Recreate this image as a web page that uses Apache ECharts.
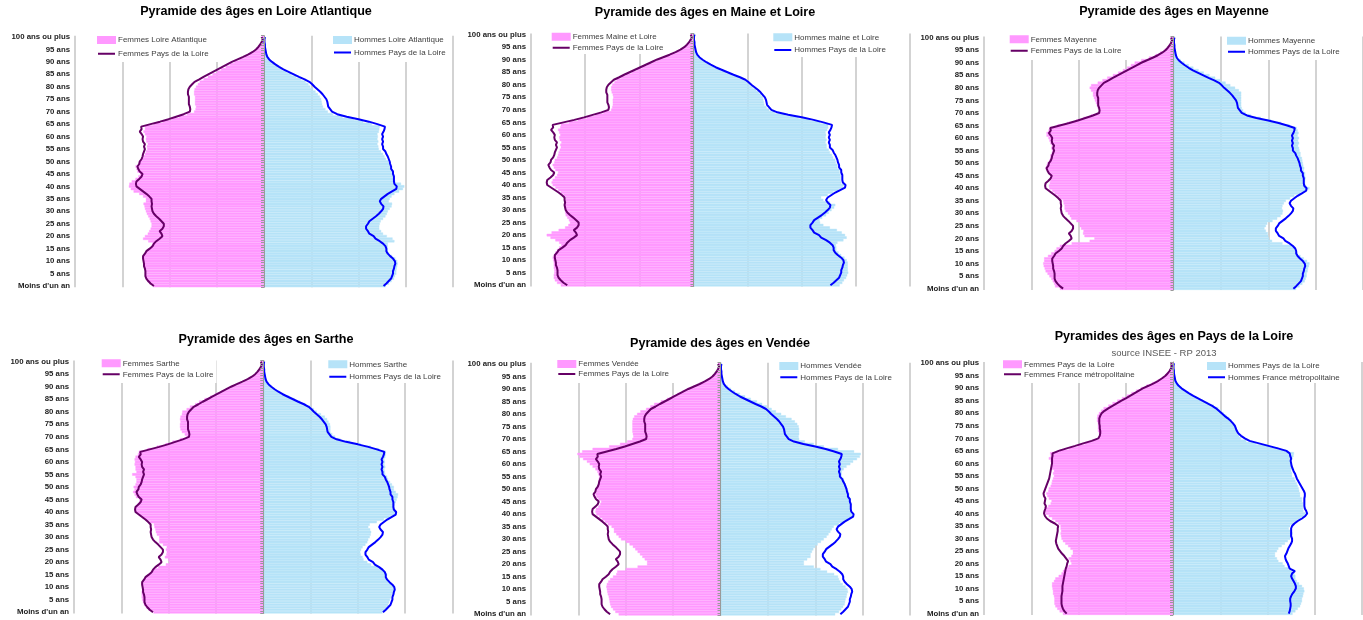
<!DOCTYPE html>
<html><head><meta charset="utf-8">
<script src="https://cdn.jsdelivr.net/npm/echarts@6.0.0/dist/echarts.min.js"></script>
<style>html,body{margin:0;padding:0;background:#fff}#c{width:1363px;height:620px}</style>
</head><body><div id="c"></div>
<script>
// Age categories (index 0 = "Moins d'un an", 100 = "100 ans ou plus")
const ageLabels = [];
for (let a = 0; a <= 100; a++) ageLabels.push(a === 0 ? "Moins d'un an" : a === 100 ? '100 ans ou plus' : a + (a === 1 ? ' an' : ' ans'));

// Pays de la Loire
const pdlF = [2.33,2.40,2.45,2.49,2.51,2.51,2.51,2.52,2.54,2.54,
 2.55,2.56,2.56,2.52,2.49,2.42,2.36,2.33,2.28,2.21,
 2.15,2.17,2.21,2.15,2.12,2.12,2.17,2.22,2.28,2.33,
 2.36,2.37,2.38,2.37,2.38,2.38,2.43,2.49,2.56,2.63,
 2.70,2.71,2.70,2.64,2.59,2.57,2.63,2.66,2.68,2.64,
 2.63,2.59,2.57,2.56,2.54,2.52,2.54,2.52,2.56,2.57,
 2.56,2.59,2.63,2.59,2.60,2.40,2.20,2.02,1.86,1.70,
 1.57,1.56,1.57,1.59,1.59,1.59,1.59,1.61,1.61,1.60,
 1.57,1.52,1.47,1.37,1.28,1.18,1.08,0.98,0.88,0.78,
 0.68,0.56,0.44,0.33,0.24,0.17,0.12,0.08,0.05,0.03,0.05];
const pdlM = [2.53,2.59,2.64,2.69,2.71,2.73,2.73,2.75,2.76,2.78,
 2.77,2.73,2.67,2.62,2.59,2.59,2.57,2.52,2.45,2.36,
 2.32,2.23,2.20,2.16,2.16,2.20,2.23,2.30,2.37,2.43,
 2.48,2.52,2.53,2.48,2.45,2.48,2.55,2.62,2.71,2.80,
 2.81,2.76,2.75,2.75,2.75,2.73,2.73,2.69,2.69,2.67,
 2.66,2.64,2.62,2.59,2.57,2.52,2.52,2.50,2.52,2.50,
 2.52,2.50,2.53,2.55,2.56,2.40,2.22,2.00,1.75,1.55,
 1.44,1.40,1.36,1.35,1.34,1.32,1.28,1.24,1.19,1.13,
 1.07,1.02,0.96,0.86,0.74,0.63,0.52,0.41,0.32,0.24,
 0.17,0.11,0.07,0.05,0.04,0.03,0.02,0.02,0.01,0.01,0.02];
// France métropolitaine
const frF = [2.25,2.30,2.33,2.35,2.36,2.36,2.36,2.36,2.35,2.34,
 2.34,2.34,2.33,2.32,2.31,2.30,2.29,2.28,2.27,2.25,
 2.24,2.22,2.26,2.30,2.35,2.39,2.43,2.45,2.47,2.48,
 2.47,2.46,2.45,2.44,2.44,2.43,2.50,2.60,2.67,2.71,
 2.73,2.72,2.70,2.69,2.72,2.71,2.70,2.73,2.74,2.72,
 2.70,2.68,2.66,2.64,2.62,2.61,2.60,2.59,2.58,2.57,
 2.56,2.56,2.56,2.55,2.55,2.42,2.25,2.07,1.90,1.72,
 1.58,1.55,1.54,1.54,1.55,1.55,1.56,1.56,1.56,1.54,
 1.51,1.45,1.37,1.28,1.19,1.10,1.00,0.91,0.82,0.73,
 0.64,0.52,0.41,0.31,0.23,0.16,0.11,0.07,0.04,0.03,0.04];
const frM = [2.45,2.47,2.48,2.49,2.49,2.48,2.48,2.50,2.53,2.57,
 2.60,2.60,2.58,2.55,2.52,2.50,2.52,2.58,2.47,2.45,
 2.43,2.40,2.38,2.37,2.40,2.42,2.44,2.47,2.50,2.52,
 2.52,2.50,2.50,2.50,2.50,2.52,2.57,2.64,2.73,2.80,
 2.84,2.82,2.79,2.78,2.78,2.78,2.78,2.79,2.79,2.77,
 2.74,2.71,2.68,2.65,2.62,2.60,2.58,2.55,2.53,2.51,
 2.50,2.49,2.50,2.48,2.47,2.40,2.22,2.02,1.82,1.62,
 1.52,1.44,1.38,1.35,1.33,1.31,1.27,1.22,1.16,1.09,
 1.03,0.97,0.91,0.83,0.73,0.63,0.53,0.43,0.34,0.26,
 0.18,0.12,0.08,0.05,0.04,0.03,0.02,0.02,0.01,0.01,0.02];
// Loire Atlantique
const laF = [2.35,2.42,2.47,2.50,2.52,2.52,2.52,2.52,2.54,2.54,
 2.55,2.56,2.55,2.52,2.48,2.42,2.38,2.36,2.45,2.56,
 2.52,2.46,2.43,2.40,2.38,2.38,2.40,2.42,2.45,2.48,
 2.50,2.52,2.53,2.55,2.50,2.50,2.56,2.64,2.76,2.82,
 2.86,2.85,2.80,2.72,2.66,2.62,2.68,2.70,2.72,2.66,
 2.64,2.58,2.55,2.52,2.50,2.47,2.48,2.46,2.49,2.50,
 2.49,2.52,2.55,2.52,2.52,2.34,2.15,1.96,1.80,1.63,
 1.48,1.45,1.44,1.46,1.46,1.46,1.46,1.48,1.48,1.47,
 1.44,1.40,1.36,1.28,1.19,1.09,1.00,0.91,0.81,0.72,
 0.63,0.52,0.41,0.31,0.22,0.16,0.11,0.07,0.05,0.03,0.05];
const laM = [2.58,2.65,2.70,2.75,2.77,2.80,2.80,2.81,2.82,2.83,
 2.82,2.78,2.71,2.65,2.62,2.62,2.62,2.62,2.76,2.72,
 2.60,2.52,2.48,2.44,2.44,2.45,2.47,2.52,2.57,2.60,
 2.62,2.66,2.70,2.71,2.64,2.66,2.70,2.76,2.86,2.94,
 2.97,2.90,2.78,2.76,2.75,2.73,2.72,2.68,2.68,2.65,
 2.63,2.58,2.55,2.52,2.48,2.43,2.42,2.40,2.42,2.40,
 2.41,2.40,2.43,2.44,2.45,2.28,2.10,1.90,1.66,1.46,
 1.35,1.30,1.25,1.23,1.22,1.21,1.18,1.14,1.09,1.04,
 0.98,0.94,0.88,0.79,0.68,0.58,0.48,0.38,0.29,0.22,
 0.15,0.10,0.06,0.04,0.03,0.03,0.02,0.02,0.01,0.01,0.02];
// Maine et Loire
const mlF = [2.45,2.52,2.56,2.58,2.58,2.57,2.57,2.58,2.58,2.58,
 2.59,2.60,2.58,2.55,2.52,2.48,2.44,2.48,2.55,2.64,
 2.71,2.62,2.49,2.37,2.31,2.28,2.30,2.33,2.36,2.37,
 2.37,2.37,2.37,2.36,2.36,2.36,2.40,2.45,2.50,2.55,
 2.60,2.62,2.60,2.56,2.52,2.50,2.55,2.58,2.60,2.57,
 2.56,2.52,2.50,2.49,2.47,2.45,2.46,2.44,2.47,2.48,
 2.46,2.48,2.50,2.46,2.45,2.30,2.14,1.97,1.82,1.66,
 1.52,1.50,1.49,1.49,1.49,1.48,1.49,1.51,1.52,1.52,
 1.50,1.46,1.42,1.33,1.25,1.14,1.05,0.95,0.86,0.76,
 0.66,0.55,0.43,0.32,0.23,0.17,0.12,0.08,0.05,0.03,0.05];
const mlM = [2.70,2.75,2.78,2.82,2.84,2.86,2.85,2.85,2.85,2.85,
 2.83,2.79,2.73,2.68,2.64,2.64,2.63,2.66,2.77,2.83,
 2.80,2.74,2.65,2.52,2.40,2.34,2.33,2.38,2.45,2.50,
 2.55,2.60,2.62,2.52,2.40,2.36,2.48,2.58,2.68,2.76,
 2.78,2.73,2.72,2.72,2.72,2.70,2.70,2.66,2.66,2.63,
 2.62,2.58,2.56,2.52,2.50,2.46,2.46,2.44,2.46,2.44,
 2.45,2.44,2.47,2.49,2.49,2.34,2.16,1.94,1.70,1.50,
 1.40,1.35,1.31,1.30,1.29,1.28,1.25,1.21,1.16,1.10,
 1.04,0.99,0.93,0.84,0.72,0.61,0.50,0.40,0.31,0.23,
 0.16,0.11,0.07,0.05,0.04,0.03,0.02,0.02,0.01,0.01,0.02];
// Mayenne
const mayF = [2.40,2.50,2.52,2.55,2.58,2.62,2.66,2.70,2.72,2.74,
 2.75,2.73,2.73,2.65,2.58,2.51,2.47,2.40,2.15,1.77,
 1.67,1.88,1.91,1.90,1.95,1.98,1.98,2.05,2.16,2.19,
 2.23,2.28,2.30,2.30,2.32,2.33,2.40,2.45,2.51,2.56,
 2.62,2.63,2.61,2.60,2.57,2.57,2.63,2.66,2.70,2.68,
 2.66,2.62,2.60,2.60,2.57,2.56,2.58,2.57,2.60,2.62,
 2.64,2.68,2.68,2.64,2.62,2.45,2.24,2.05,1.90,1.74,
 1.58,1.57,1.60,1.62,1.64,1.66,1.68,1.70,1.70,1.74,
 1.77,1.74,1.60,1.50,1.40,1.28,1.17,1.07,0.98,0.90,
 0.82,0.68,0.52,0.38,0.28,0.20,0.14,0.09,0.06,0.04,0.06];
const mayM = [2.59,2.66,2.72,2.77,2.79,2.81,2.81,2.83,2.84,2.86,
 2.87,2.82,2.75,2.68,2.62,2.60,2.56,2.50,2.30,2.08,
 2.02,2.00,1.99,1.95,1.92,1.95,1.98,2.09,2.19,2.26,
 2.30,2.31,2.29,2.30,2.33,2.37,2.46,2.55,2.68,2.80,
 2.87,2.80,2.78,2.78,2.79,2.78,2.78,2.75,2.76,2.74,
 2.73,2.72,2.71,2.68,2.68,2.66,2.65,2.63,2.65,2.63,
 2.65,2.62,2.64,2.62,2.60,2.45,2.27,2.06,1.84,1.63,
 1.52,1.47,1.44,1.43,1.43,1.43,1.43,1.43,1.43,1.38,
 1.30,1.20,1.10,0.99,0.88,0.76,0.64,0.53,0.42,0.32,
 0.23,0.15,0.09,0.06,0.05,0.04,0.03,0.02,0.01,0.01,0.02];
// Sarthe
const saF = [2.32,2.42,2.48,2.52,2.54,2.56,2.57,2.57,2.57,2.56,
 2.56,2.57,2.56,2.52,2.48,2.42,2.36,2.32,2.22,2.06,
 1.99,2.01,2.08,2.05,2.04,2.06,2.04,2.12,2.20,2.20,
 2.20,2.25,2.27,2.28,2.30,2.31,2.39,2.48,2.56,2.63,
 2.70,2.71,2.70,2.66,2.62,2.62,2.69,2.72,2.75,2.72,
 2.74,2.70,2.68,2.68,2.70,2.77,2.68,2.70,2.70,2.72,
 2.71,2.72,2.70,2.65,2.63,2.45,2.25,2.07,1.92,1.76,
 1.62,1.66,1.72,1.75,1.76,1.76,1.75,1.76,1.75,1.72,
 1.71,1.62,1.55,1.44,1.36,1.24,1.12,1.02,0.89,0.79,
 0.68,0.56,0.42,0.31,0.23,0.17,0.12,0.08,0.05,0.03,0.05];
const saM = [2.52,2.57,2.61,2.64,2.66,2.68,2.70,2.72,2.74,2.76,
 2.76,2.72,2.66,2.62,2.60,2.62,2.58,2.52,2.42,2.28,
 2.20,2.12,2.10,2.06,2.05,2.07,2.10,2.16,2.20,2.22,
 2.25,2.27,2.28,2.26,2.22,2.25,2.40,2.55,2.68,2.78,
 2.80,2.78,2.77,2.78,2.80,2.82,2.84,2.85,2.80,2.76,
 2.76,2.72,2.68,2.64,2.62,2.58,2.57,2.56,2.58,2.56,
 2.57,2.56,2.58,2.59,2.59,2.45,2.27,2.06,1.84,1.63,
 1.52,1.46,1.42,1.42,1.42,1.41,1.38,1.35,1.30,1.22,
 1.13,1.07,1.00,0.89,0.78,0.66,0.55,0.44,0.34,0.25,
 0.18,0.12,0.07,0.05,0.04,0.03,0.02,0.02,0.01,0.01,0.02];
// Vendée
const veF = [2.15,2.22,2.27,2.31,2.33,2.34,2.35,2.36,2.38,2.39,
 2.40,2.41,2.40,2.37,2.33,2.27,2.20,2.18,2.00,1.75,
 1.55,1.55,1.60,1.65,1.70,1.75,1.80,1.85,1.92,2.00,
 2.10,2.15,2.20,2.25,2.25,2.30,2.38,2.44,2.50,2.56,
 2.62,2.64,2.63,2.58,2.54,2.52,2.58,2.62,2.64,2.62,
 2.62,2.60,2.58,2.58,2.57,2.56,2.58,2.60,2.64,2.70,
 2.76,2.82,2.90,2.98,3.02,2.92,2.70,2.35,2.12,1.97,
 1.86,1.84,1.85,1.86,1.86,1.86,1.86,1.86,1.85,1.82,
 1.76,1.69,1.57,1.48,1.40,1.26,1.13,1.02,0.91,0.80,
 0.70,0.57,0.45,0.34,0.25,0.18,0.12,0.08,0.05,0.03,0.05];
const veM = [2.42,2.50,2.55,2.59,2.62,2.63,2.64,2.66,2.67,2.69,
 2.68,2.64,2.58,2.53,2.50,2.48,2.40,2.25,2.11,1.97,
 1.76,1.76,1.83,1.90,1.90,1.93,1.96,2.00,2.05,2.12,
 2.18,2.24,2.28,2.32,2.35,2.39,2.50,2.60,2.70,2.78,
 2.80,2.76,2.75,2.75,2.76,2.75,2.75,2.72,2.72,2.70,
 2.68,2.66,2.64,2.62,2.60,2.56,2.56,2.56,2.60,2.66,
 2.74,2.80,2.88,2.94,2.96,2.82,2.48,2.18,1.97,1.78,
 1.66,1.65,1.66,1.66,1.66,1.65,1.62,1.57,1.50,1.38,
 1.28,1.17,1.08,0.98,0.88,0.77,0.64,0.52,0.41,0.31,
 0.22,0.15,0.09,0.06,0.04,0.03,0.02,0.02,0.01,0.01,0.02];

const FONT = "'Liberation Sans', Arial, sans-serif";
const PINK = '#ff99ff', LBLUE = '#b6e3f8', PURPLE = '#660066', BLUE = '#0000ff';
const LINE_ICON = 'path://M0,0h0.01v0.01h-0.01z M0,2h18v2h-18z M17.99,5.99h0.01v0.01h-0.01z';

const panels = [
 {title:'Pyramide des âges en Loire Atlantique', tx:256, ty:11.7,
  grid:{left:75, top:35.75, width:378, height:251.5}, xmin:-4,
  fBar:laF, mBar:laM, fLine:pdlF, mLine:pdlM,
  names:['Femmes Loire Atlantique','Hommes Loire Atlantique','Femmes Pays de la Loire','Hommes Pays de la Loire'],
  legL:{x:97, y1:40, y2:53.7, pr:12, bottom:62}, legR:{x:333, y1:40, y2:52.5, pr:5, bottom:62}},
 {title:'Pyramide des âges en Maine et Loire', tx:705, ty:12.7,
  grid:{left:531, top:33.4, width:379, height:253.1}, xmin:-3,
  fBar:mlF, mBar:mlM, fLine:pdlF, mLine:pdlM,
  names:['Femmes Maine et Loire','Hommes maine et Loire','Femmes Pays de la Loire','Hommes Pays de la Loire'],
  legL:{x:551.7, y1:36.7, y2:47.7, pr:3, bottom:54}, legR:{x:773.3, y1:37.3, y2:50, pr:3, bottom:57}},
 {title:'Pyramide des âges en Mayenne', tx:1174, ty:12,
  grid:{left:984, top:36.4, width:379, height:253.5}, xmin:-4,
  fBar:mayF, mBar:mayM, fLine:pdlF, mLine:pdlM,
  names:['Femmes Mayenne','Hommes Mayenne','Femmes Pays de la Loire','Hommes Pays de la Loire'],
  legL:{x:1009.7, y1:39.3, y2:50.7, pr:12, bottom:60}, legR:{x:1227, y1:40.7, y2:51.7, pr:3, bottom:60}},
 {title:'Pyramide des âges en Sarthe', tx:266, ty:340,
  grid:{left:74, top:360.4, width:378.5, height:253.1}, xmin:-4,
  fBar:saF, mBar:saM, fLine:pdlF, mLine:pdlM,
  names:['Femmes Sarthe','Hommes Sarthe','Femmes Pays de la Loire','Hommes Pays de la Loire'],
  legL:{x:101.7, y1:363.3, y2:374.3, pr:3, bottom:383}, legR:{x:328.3, y1:364.3, y2:376.7, pr:3, bottom:383}},
 {title:'Pyramide des âges en Vendée', tx:720, ty:343.3,
  grid:{left:531, top:362.7, width:379, height:252.8}, xmin:-4,
  fBar:veF, mBar:veM, fLine:pdlF, mLine:pdlM,
  names:['Femmes Vendée','Hommes Vendée','Femmes Pays de la Loire','Hommes Pays de la Loire'],
  legL:{x:557.3, y1:364, y2:374, pr:10, bottom:383}, legR:{x:779.3, y1:366, y2:377.3, pr:3, bottom:383}},
 {title:'Pyramides des âges en Pays de la Loire', tx:1174, ty:336.7, sub:'source INSEE - RP 2013', sx:1164, sy:353,
  grid:{left:984, top:362, width:378, height:252.9}, xmin:-4,
  fBar:pdlF, mBar:pdlM, fLine:frF, mLine:frM,
  names:['Femmes Pays de la Loire','Hommes Pays de la Loire','Femmes France métropolitaine','Hommes France métropolitaine'],
  legL:{x:1003, y1:364.3, y2:374.3, pr:3, bottom:383}, legR:{x:1207, y1:366, y2:377.3, pr:3, bottom:383}}
];

const option = {animation:false, backgroundColor:'#fff', title:[], grid:[], xAxis:[], yAxis:[], legend:[], series:[]};
const display = {};
const neg = arr => arr.map(v => -v);

function makeLegend(L, ids) {
  const ROW = 8;
  return {
    orient:'vertical', left:L.x - 3, top:L.y1 - ROW/2 - 3,
    padding:[3, L.pr, Math.max(0, L.bottom - (L.y2 + ROW/2)), 3],
    itemWidth:17, itemHeight:6, itemGap:(L.y2 - L.y1) - ROW,
    backgroundColor:'#fff', selectedMode:false,
    data:ids, formatter:n => display[n],
    textStyle:{fontFamily:FONT, fontSize:8, color:'#404040', lineHeight:ROW, padding:[0,0,0,-2]}
  };
}

panels.forEach((p, i) => {
  option.title.push({text:p.title, left:p.tx, top:p.ty - 8, textAlign:'center', padding:0,
    textStyle:{fontFamily:FONT, fontSize:12.6, fontWeight:'bold', color:'#000', lineHeight:16}});
  if (p.sub) option.title.push({text:p.sub, left:p.sx, top:p.sy - 6, textAlign:'center', padding:0,
    textStyle:{fontFamily:FONT, fontSize:9.5, fontWeight:'normal', color:'#595959', lineHeight:12}});
  option.grid.push(Object.assign({containLabel:false}, p.grid));
  option.xAxis.push({type:'value', gridIndex:i, min:p.xmin, max:4, interval:1,
    axisLabel:{show:false}, axisLine:{show:false}, axisTick:{show:false},
    splitLine:{show:true, lineStyle:{color:'#c4c4c4', width:1.5}}});
  option.yAxis.push({type:'category', gridIndex:i, data:ageLabels, position:'left',
    axisLine:{show:false, onZero:false}, axisTick:{show:false}, splitLine:{show:false},
    axisLabel:{interval:4, margin:5, fontFamily:FONT, fontSize:7.8, fontWeight:'bold', color:'#222'}});
  option.yAxis.push({type:'category', gridIndex:i, data:ageLabels, position:'left', z:6,
    axisLine:{show:true, onZero:true, lineStyle:{color:'#9a9a9a', width:1}},
    axisTick:{show:true, interval:0, length:3, lineStyle:{color:'#9a9a9a', width:1}},
    axisLabel:{show:false}, splitLine:{show:false}});
  const ids = ['p'+i+'fb','p'+i+'mb','p'+i+'fl','p'+i+'ml'];
  ids.forEach((id, k) => display[id] = p.names[k]);
  const ya = 2*i;
  option.series.push({type:'bar', name:ids[0], xAxisIndex:i, yAxisIndex:ya, data:neg(p.fBar),
    barGap:'-100%', barCategoryGap:'0%', itemStyle:{color:PINK, borderColor:PINK, borderWidth:0.4}, silent:true});
  option.series.push({type:'bar', name:ids[1], xAxisIndex:i, yAxisIndex:ya, data:p.mBar,
    barGap:'-100%', barCategoryGap:'0%', itemStyle:{color:LBLUE, borderColor:LBLUE, borderWidth:0.4}, silent:true});
  option.series.push({type:'line', name:ids[2], xAxisIndex:i, yAxisIndex:ya, data:neg(p.fLine),
    symbol:'none', z:4, lineStyle:{color:PURPLE, width:2}, itemStyle:{color:PURPLE}, silent:true});
  option.series.push({type:'line', name:ids[3], xAxisIndex:i, yAxisIndex:ya, data:p.mLine,
    symbol:'none', z:4, lineStyle:{color:BLUE, width:2}, itemStyle:{color:BLUE}, silent:true});
  option.legend.push(makeLegend(p.legL, [{name:ids[0], icon:'rect'}, {name:ids[2], icon:LINE_ICON, itemStyle:{color:PURPLE}}]));
  option.legend.push(makeLegend(p.legR, [{name:ids[1], icon:'rect'}, {name:ids[3], icon:LINE_ICON, itemStyle:{color:BLUE}}]));
});

const chart = echarts.init(document.getElementById('c'), null, {renderer:'canvas'});
chart.setOption(option);
</script>
</body></html>
